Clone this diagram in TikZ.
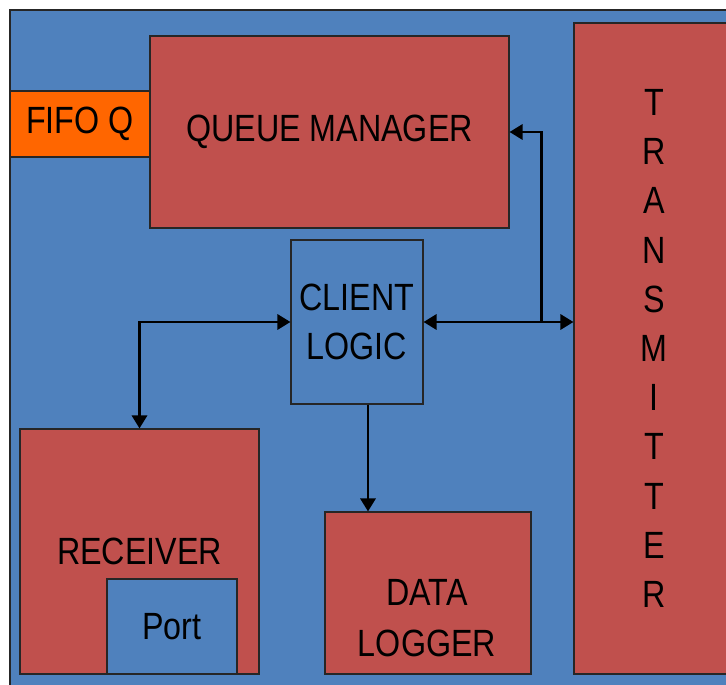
\documentclass[tikz,border=0pt]{standalone}
\usepackage{fontspec}
\setmainfont{Liberation Sans}[FakeStretch=0.85]
\definecolor{panelblue}{RGB}{79, 129, 189}
\definecolor{unitred}{RGB}{192, 80, 77}
\definecolor{fifoorange}{RGB}{255, 102, 0}
\usetikzlibrary{arrows.meta, positioning, calc}

\begin{document}
\begin{tikzpicture}[
  unit/.style={draw=black!85, line width=0.6pt, fill=unitred, inner sep=0pt, align=center,
               font=\fontsize{21.6}{28}\selectfont},
  arr/.style={line width=1.7pt, -{Triangle[length=0.26cm, width=0.3cm]}},
  biarr/.style={line width=1.7pt, {Triangle[length=0.26cm, width=0.3cm]}-{Triangle[length=0.26cm, width=0.3cm]}},
]
\useasboundingbox (0, 0) rectangle (14.52, 13.68);
\clip (0, 0) rectangle (14.52, 13.68);
\fill[white] (0, 0) rectangle (14.52, 13.68);

% Blue panel behind everything
\draw[black!85, line width=0.6pt, fill=panelblue] (0.2, -0.5) rectangle (15, 13.48);

% Queue side
\node[unit, minimum width=7.18cm, minimum height=3.84cm] (qm) at (6.59, 11.04) {QUEUE MANAGER};
\node[unit, fill=fifoorange, minimum width=2.8cm, minimum height=1.32cm] (fifo) at (1.6, 11.2) {FIFO Q};

% Transmitter column
\node[unit, minimum width=3.2cm, minimum height=13.02cm] (trans) at (13.08, 6.71)
  {T\\R\\A\\N\\S\\M\\I\\T\\T\\E\\R};

% Client logic
\node[unit, fill=panelblue, minimum width=2.64cm, minimum height=3.28cm] (clog) at (7.14, 7.24) {CLIENT\\LOGIC};

% Receiver with its port
\node[unit, minimum width=4.78cm, minimum height=4.9cm] (recv) at (2.79, 2.65) {RECEIVER};
\node[unit, fill=panelblue, minimum width=2.6cm, minimum height=1.9cm] (port) at (3.44, 1.15) {Port};

% Data logger
\node[unit, minimum width=4.12cm, minimum height=3.24cm] (dlog) at (8.56, 1.82) {};
\node[font=\fontsize{21.6}{29}\selectfont, align=center] (dlogtxt) at ($(dlog.center)+(-0.02, -0.5)$) {DATA\\LOGGER};

% Connections
\coordinate (jn) at (10.82, 7.24);
\coordinate (ds) at ([xshift=0.22cm]clog.south);
\draw[biarr] (clog.west) -| (recv.north);
\draw[biarr] (clog.east) -- (clog.east -| trans.west);
\draw[arr] (jn) |- (qm.east);
\draw[arr] (ds) -- (ds |- dlog.north);
\end{tikzpicture}
\end{document}
